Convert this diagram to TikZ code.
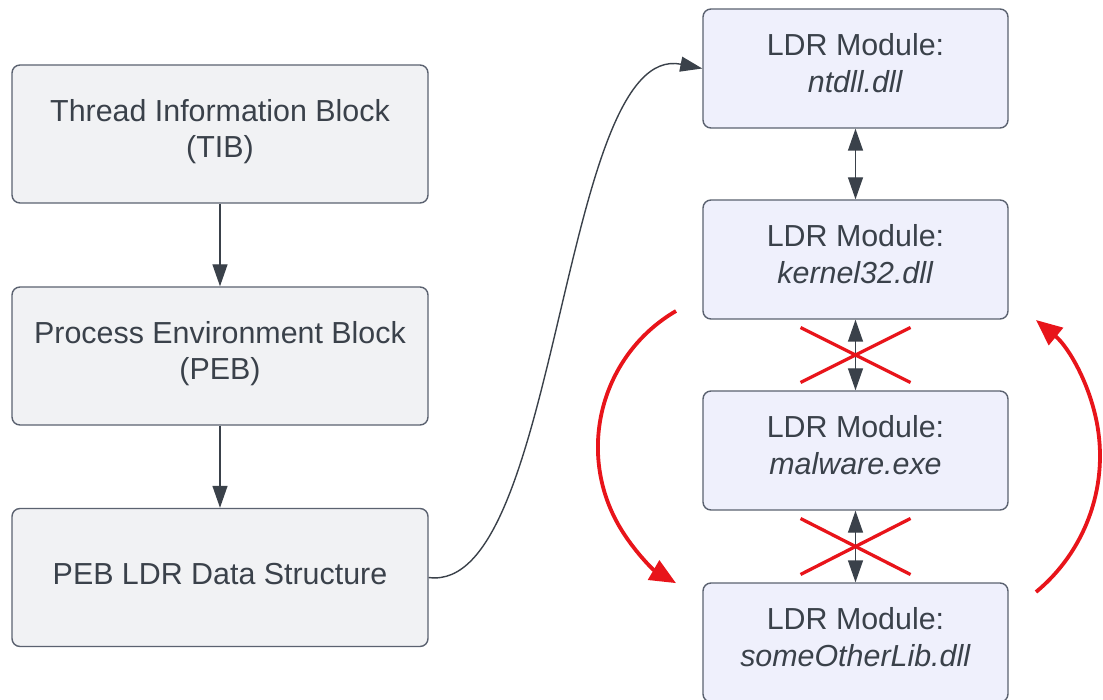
\documentclass[tikz,border=0pt]{standalone}
\usepackage{fontspec}
\setmainfont{Liberation Sans}
\usetikzlibrary{arrows.meta,calc}
\definecolor{txtc}{HTML}{3A414A}
\definecolor{bordc}{HTML}{5B6270}
\definecolor{lfill}{HTML}{F1F2F4}
\definecolor{rfill}{HTML}{EFF0FC}
\definecolor{redc}{HTML}{E8141A}
\tikzset{
  basebox/.style={draw=bordc, line width=1.4pt, rounded corners=8pt, align=center,
    text=txtc, font=\fontsize{30.4}{36.5}\selectfont, inner sep=0pt},
  lbox/.style={basebox, fill=lfill, minimum width=416pt, minimum height=138pt},
  rbox/.style={basebox, fill=rfill, minimum width=305pt, minimum height=119pt},
  arr/.style={draw=txtc, line width=1.4pt, -{Triangle[length=22pt,width=15pt]}},
  darr/.style={draw=txtc, line width=1.4pt, {Triangle[length=22pt,width=15pt]}-{Triangle[length=22pt,width=15pt]}},
  redarr/.style={draw=redc, line width=3.8pt, -{Triangle[length=26pt,width=22pt]}},
  crossln/.style={draw=redc, line width=3.3pt}
}
\begin{document}
\begin{tikzpicture}[x=1pt,y=-1pt]
\useasboundingbox (0,0) rectangle (1103,700);
\node[lbox] (tib) at (220,134) {Thread Information Block\\(TIB)\strut};
\node[lbox] (peb) at (220,356) {Process Environment Block\\(PEB)\strut};
\node[lbox] (ldr) at (220,577.5) {PEB LDR Data Structure\strut};
\node[rbox] (ma) at (855.5,68.5) {LDR Module:\\\textit{ntdll.dll}\strut};
\node[rbox] (mb) at (855.5,259.5) {LDR Module:\\\textit{kernel32.dll}\strut};
\node[rbox] (mc) at (855.5,450.5) {LDR Module:\\\textit{malware.exe}\strut};
\node[rbox] (md) at (855.5,642.5) {LDR Module:\\\textit{someOtherLib.dll}\strut};

\draw[arr] (tib) -- (peb);
\draw[arr] (peb) -- (ldr);
\draw[arr] (ldr.east) .. controls (560,595) and (560,40) .. (ma.west);
\draw[darr] (ma) -- (mb);
\draw[darr] (mb) -- (mc);
\draw[darr] (mc) -- (md);

\coordinate (x1) at ($(mb.south)!0.5!(mc.north)$);
\coordinate (x2) at ($(mc.south)!0.5!(md.north)$);
\draw[crossln] ($(x1)+(-55,-27.5)$) -- ($(x1)+(55,27.5)$);
\draw[crossln] ($(x1)+(-55,27.5)$) -- ($(x1)+(55,-27.5)$);
\draw[crossln] ($(x2)+(-55,-28)$) -- ($(x2)+(55,28)$);
\draw[crossln] ($(x2)+(-55,28)$) -- ($(x2)+(55,-28)$);

\coordinate (la) at (676,311);
\coordinate (ra) at (1036,592);
\draw[redarr] (la) arc[start angle=-120.3, end angle=-239.7, radius=157.6];
\draw[redarr] (ra) arc[start angle=50.4, end angle=-50.4, radius=176.5];
\end{tikzpicture}
\end{document}
